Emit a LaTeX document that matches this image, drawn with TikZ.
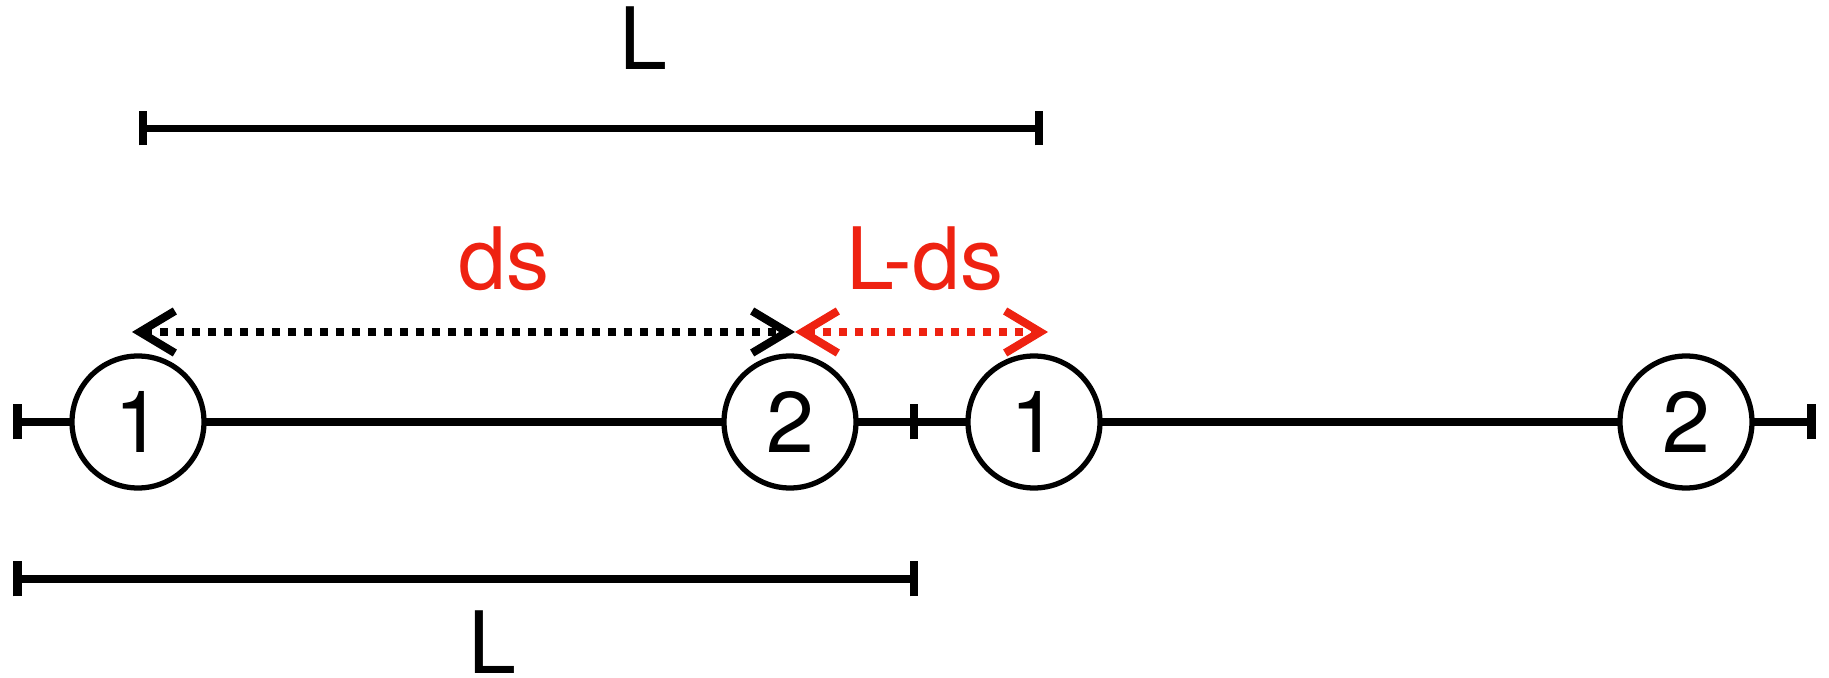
\documentclass[tikz,border=0pt]{standalone}
\usepackage{fontspec}
\setmainfont{TeX Gyre Heros}
\usetikzlibrary{arrows.meta}
\definecolor{dsred}{RGB}{238,34,17}
\begin{document}
\begin{tikzpicture}[>={Straight Barb[length=3.5mm,width=4.2mm]}, font=\fontsize{24.5}{29}\selectfont, line join=round]
	\tikzset{bead/.style={circle,draw,line width=1.5pt,fill=white,minimum size=1.32cm,inner sep=0pt},
		rod/.style={line width=2.2pt},
		tick/.style={line width=2.3pt},
		gap/.style={line width=2.3pt,dash pattern=on 0.8mm off 0.8mm}}
	\useasboundingbox (0,0) rectangle (18.29,6.78);
	%\draw[color=gray!50,dashed] (0,0) grid (18,6);
	% chain, two periods
	\coordinate (t0) at (0.175,2.56);
	\coordinate (t1) at (9.14,2.56);
	\coordinate (t2) at (18.115,2.56);
	\draw[rod] (t0)--(t2);
	\foreach \p in {t0,t1,t2}
		\draw[tick] ([yshift=-1.75mm]\p)--([yshift=1.75mm]\p);
	\node[bead] (a1) at (1.38,2.56){1};
	\node[bead] (a2) at (7.90,2.56){2};
	\node[bead] (b1) at (10.34,2.56){1};
	\node[bead] (b2) at (16.86,2.56){2};
	% period above
	\coordinate (u0) at (1.43,5.495);
	\coordinate (u1) at (10.39,5.495);
	\draw[rod] (u0)--(u1);
	\foreach \p in {u0,u1}
		\draw[tick] ([yshift=-1.7mm]\p)--([yshift=1.7mm]\p);
	\node[anchor=base] (Ltop) at (6.43,6.08){L};
	% period below
	\coordinate (w0) at (0.175,0.99);
	\coordinate (w1) at (9.14,0.99);
	\draw[rod] (w0)--(w1);
	\foreach \p in {w0,w1}
		\draw[tick] ([yshift=-1.75mm]\p)--([yshift=1.75mm]\p);
	\node[anchor=base] (Lbot) at (4.92,0.05){L};
	% distances
	\coordinate (p0) at (1.32,3.46);
	\coordinate (p1) at (7.95,3.46);
	\coordinate (p2) at (10.48,3.46);
	\draw[gap,<->] (p0)--(p1);
	\draw[gap,dsred,<->] (p1)--(p2);
	\node[anchor=base,text=dsred] (ds) at (5.04,3.88){ds};
	\node[anchor=base,text=dsred] (Lds) at (9.25,3.88){L-ds};
\end{tikzpicture}
\end{document}
